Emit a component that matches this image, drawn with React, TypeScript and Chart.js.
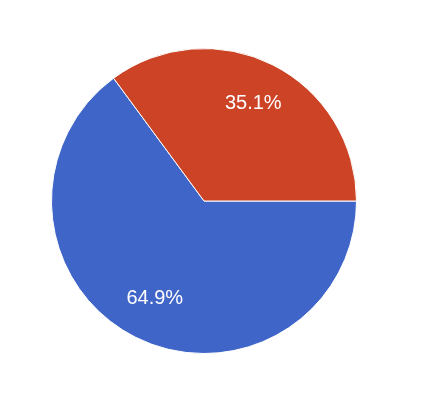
import React, { useEffect, useRef } from "react";
import { Chart, registerables } from "chart.js";

Chart.register(...registerables);

const categories = ["A", "B"];
const values = [64.9, 35.1];
const labelsText = ["64.9%", "35.1%"];
const colors = ["#4065c8", "#cc4326"];

const labelPlugin = {
  id: "sliceLabels",
  afterDatasetsDraw(chart: any) {
    const ctx = chart.ctx;
    const meta = chart.getDatasetMeta(0);
    ctx.save();
    ctx.fillStyle = "#ffffff";
    ctx.font = "20px 'Liberation Sans', Arial, sans-serif";
    ctx.textAlign = "center";
    ctx.textBaseline = "middle";
    meta.data.forEach((arc: any, i: number) => {
      const { x, y, startAngle, endAngle, outerRadius } = arc.getProps(
        ["x", "y", "startAngle", "endAngle", "outerRadius"],
        true
      );
      const mid = (startAngle + endAngle) / 2;
      const d = outerRadius * 0.716;
      ctx.fillText(labelsText[i], x + Math.cos(mid) * d, y + Math.sin(mid) * d);
    });
    ctx.restore();
  },
};

export default function App() {
  const ref = useRef<HTMLCanvasElement>(null);
  useEffect(() => {
    const chart = new Chart(ref.current!, {
      type: "pie",
      data: {
        labels: categories,
        datasets: [
          {
            data: values,
            backgroundColor: colors,
            borderColor: "#ffffff",
            borderWidth: 1,
          },
        ],
      },
      options: {
        animation: false,
        responsive: false,
        rotation: 90,
        layout: { padding: { left: 51, right: 77, top: 48, bottom: 48 } },
        plugins: { legend: { display: false }, tooltip: { enabled: false } },
      },
      plugins: [labelPlugin],
    });
    return () => chart.destroy();
  }, []);
  return (
    <div style={{ position: "fixed", left: 0, top: 0, width: 434, height: 402, background: "#fff" }}>
      <canvas ref={ref} width={434} height={402} style={{ width: 434, height: 402 }} />
    </div>
  );
}
